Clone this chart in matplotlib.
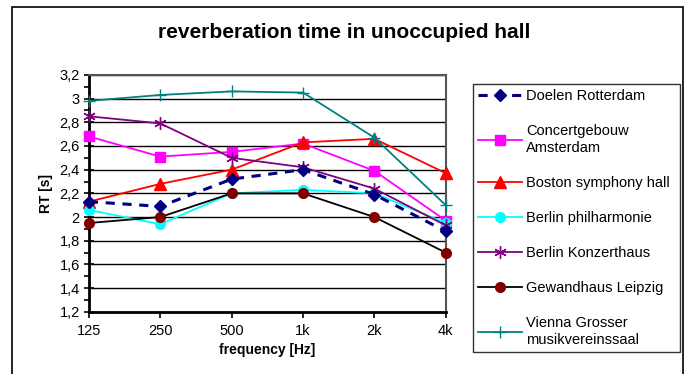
import numpy as np
import matplotlib.pyplot as plt
from matplotlib.ticker import FuncFormatter, MultipleLocator
from matplotlib.patches import Rectangle

plt.rcParams['font.family'] = ['Liberation Sans', 'DejaVu Sans']

freqs = ['125', '250', '500', '1k', '2k', '4k']

doelen = [2.13, 2.09, 2.32, 2.40, 2.19, 1.88]
concertgebouw = [2.68, 2.51, 2.55, 2.62, 2.39, 1.97]
boston = [2.13, 2.28, 2.40, 2.63, 2.66, 2.37]
berlin_phil = [2.06, 1.94, 2.20, 2.23, 2.20, 1.95]
konzerthaus = [2.85, 2.79, 2.50, 2.42, 2.24, 1.93]
gewandhaus = [1.95, 2.00, 2.20, 2.20, 2.00, 1.70]
vienna = [2.98, 3.03, 3.06, 3.05, 2.67, 2.10]

fig = plt.figure(figsize=(6.89, 3.74), dpi=100)
ax = fig.add_axes([0.129, 0.166, 0.518, 0.634])

x = np.arange(len(freqs))

kw = dict(clip_on=False)
ax.plot(x, doelen, color='#000080', linestyle=(0, (3, 2.5)), linewidth=2.2,
        marker='D', markersize=6.5, label='Doelen Rotterdam', zorder=5, **kw)
ax.plot(x, concertgebouw, color='#FF00FF', linewidth=1.3, marker='s',
        markersize=7, label='Concertgebouw\nAmsterdam', zorder=4, **kw)
ax.plot(x, boston, color='#FF0000', linewidth=1.3, marker='^',
        markersize=8, label='Boston symphony hall', zorder=4, **kw)
ax.plot(x, berlin_phil, color='#00FFFF', linewidth=1.3, marker='o',
        markersize=7, label='Berlin philharmonie', zorder=4, **kw)
ax.plot(x, konzerthaus, color='#800080', linewidth=1.3, marker=(6, 2, 0),
        markersize=9, markeredgewidth=1.0, label='Berlin Konzerthaus', zorder=4, **kw)
ax.plot(x, gewandhaus, color='black', linewidth=1.3, marker='o',
        markerfacecolor='#800000', markeredgecolor='#800000',
        markersize=7, label='Gewandhaus Leipzig', zorder=4, **kw)
ax.plot(x, vienna, color='#008080', linewidth=1.3, marker='+',
        markersize=9, markeredgewidth=1.0, label='Vienna Grosser\nmusikvereinssaal', zorder=4, **kw)

ax.set_xlim(0, 5)
ax.set_ylim(1.2, 3.2)
ax.set_xticks(x)
ax.set_xticklabels(freqs)
ax.yaxis.set_major_locator(MultipleLocator(0.2))
ax.yaxis.set_minor_locator(MultipleLocator(0.1))
ax.yaxis.set_major_formatter(FuncFormatter(lambda v, p: ('%g' % round(v, 1)).replace('.', ',')))
ax.grid(axis='y', which='major', color='black', linewidth=1.0)
ax.set_axisbelow(True)

ax.tick_params(axis='y', which='major', direction='inout', length=7, width=1.2, labelsize=10.5, pad=3)
ax.tick_params(axis='y', which='minor', direction='out', length=3.5, width=1.2)
ax.tick_params(axis='x', direction='out', length=4, width=1.2, labelsize=10.5, pad=5)

for s in ['left', 'bottom']:
    ax.spines[s].set_linewidth(2)
for s in ['top', 'right']:
    ax.spines[s].set_color('#555555')
    ax.spines[s].set_linewidth(1.5)

ax.set_xlabel('frequency [Hz]', fontsize=10, fontweight='bold', labelpad=3)
ax.set_ylabel('RT [s]', fontsize=10, fontweight='bold', labelpad=5)

fig.text(0.5, 0.912, 'reverberation time in unoccupied hall', ha='center', va='center',
         fontsize=15, fontweight='bold')

leg = ax.legend(loc='upper left', bbox_to_anchor=(0.686, 0.067, 0.301, 0.708),
                bbox_transform=fig.transFigure, mode='expand', fontsize=10.5,
                frameon=True, fancybox=False, edgecolor='black', labelspacing=1.45,
                handlelength=3.0, handletextpad=0.3, borderaxespad=0, borderpad=0.35)
leg.get_frame().set_linewidth(1.0)

fig.patches.append(Rectangle((0.0174, -0.1), 0.974, 1.08, transform=fig.transFigure,
                             fill=False, edgecolor='black', linewidth=1.2))

fig.savefig('out.png', dpi=100)
